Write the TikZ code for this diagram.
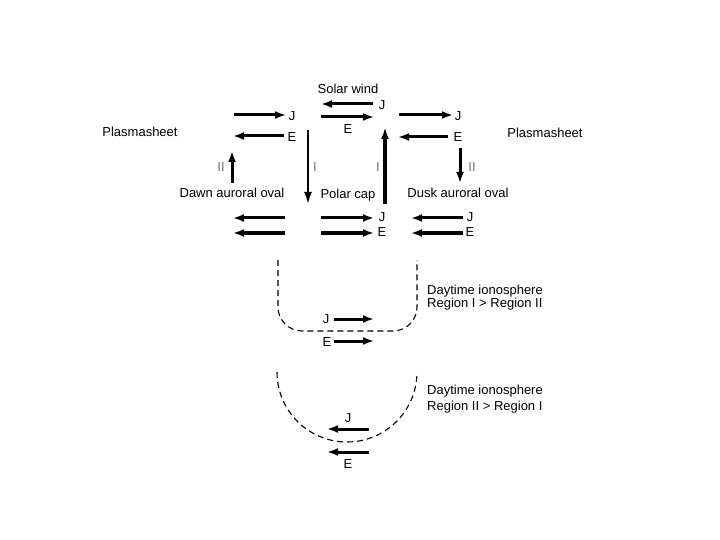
\documentclass[tikz,border=0pt]{standalone}
\usepackage{fontspec}
\setmainfont{Liberation Sans}
\usetikzlibrary{arrows.meta}
\begin{document}
\begin{tikzpicture}[x=1pt,y=-1pt,
  lbl/.style={inner sep=0pt,font=\fontsize{13}{15}\selectfont},
  rom/.style={inner sep=0pt,font=\fontsize{13}{15}\selectfont,text=black!55},
  arr/.style={line width=3pt,-{Latex[length=11pt,width=8pt]}},
  varr/.style={line width=2pt,-{Latex[length=12pt,width=8pt]}},
  uarr/.style={line width=3.2pt,-{Latex[length=12pt,width=8pt]}},
  dsh/.style={line width=1.1pt,dash pattern=on 6pt off 4pt}]
\useasboundingbox (0,0) rectangle (720,540);
% labels
\node[lbl] (sw) at (348,89) {Solar wind};
\node[lbl] (psl) at (140,132) {Plasmasheet};
\node[lbl] (psr) at (545,133) {Plasmasheet};
\node[lbl] (dawn) at (232,193) {Dawn auroral oval};
\node[lbl] (pc) at (348,195) {Polar cap};
\node[lbl] (dusk) at (458,193) {Dusk auroral oval};
% top row letters
\node[lbl] (jsw) at (382,105) {J};
\node[lbl] (esw) at (348,129) {E};
\node[lbl] (jl) at (292,116) {J};
\node[lbl] (el) at (292,137) {E};
\node[lbl] (jr) at (458,116) {J};
\node[lbl] (er) at (458,137) {E};
% bottom row letters
\node[lbl] (jm) at (382,217) {J};
\node[lbl] (em) at (382,232) {E};
\node[lbl] (jbr) at (470,217) {J};
\node[lbl] (ebr) at (470,232) {E};
% I and II
\node[rom] (i1) at (315,167) {I};
\node[rom] (i2) at (378,167) {I};
\node[rom] (ii1) at (221,167) {II};
\node[rom] (ii2) at (472,167) {II};
% arrow end points
\coordinate (a1s) at (373,104); \coordinate (a1e) at (321,104);
\coordinate (a2s) at (321,117); \coordinate (a2e) at (374,117);
\coordinate (a3s) at (234,115); \coordinate (a3e) at (286,115);
\coordinate (a4s) at (284,136); \coordinate (a4e) at (233,136);
\coordinate (a5s) at (399,115); \coordinate (a5e) at (453,115);
\coordinate (a6s) at (448,137); \coordinate (a6e) at (398,137);
\coordinate (b1s) at (285,218); \coordinate (b1e) at (233,218);
\coordinate (b2s) at (285,233); \coordinate (b2e) at (233,233);
\coordinate (b3s) at (321,218); \coordinate (b3e) at (374,218);
\coordinate (b4s) at (321,233); \coordinate (b4e) at (374,233);
\coordinate (b5s) at (463,218); \coordinate (b5e) at (411,218);
\coordinate (b6s) at (463,233); \coordinate (b6e) at (411,233);
\coordinate (v1s) at (308,130); \coordinate (v1e) at (308,204);
\coordinate (v2s) at (385,204); \coordinate (v2e) at (385,127);
\coordinate (v3s) at (232,183); \coordinate (v3e) at (232,151);
\coordinate (v4s) at (460,148); \coordinate (v4e) at (460,183);
\draw[arr] (a1s) -- (a1e);
\draw[arr] (a2s) -- (a2e);
\draw[arr] (a3s) -- (a3e);
\draw[arr] (a4s) -- (a4e);
\draw[arr] (a5s) -- (a5e);
\draw[arr] (a6s) -- (a6e);
\draw[arr] (b1s) -- (b1e);
\draw[arr] (b2s) -- (b2e);
\draw[arr] (b3s) -- (b3e);
\draw[arr] (b4s) -- (b4e);
\draw[arr] (b5s) -- (b5e);
\draw[arr] (b6s) -- (b6e);
\draw[varr] (v1s) -- (v1e);
\draw[uarr] (v2s) -- (v2e);
\draw[arr] (v3s) -- (v3e);
\draw[arr] (v4s) -- (v4e);
% daytime ionosphere, region I > region II
\coordinate (u1) at (278,260); \coordinate (u2) at (278,331);
\coordinate (u3) at (417,331); \coordinate (u4) at (417,260);
\draw[dsh,rounded corners=24pt] (u1) -- (u2) -- (u3) -- (u4);
\node[lbl,anchor=west] (d1a) at (427,291) {Daytime ionosphere};
\node[lbl,anchor=west] (d1b) at (427,304) {Region I > Region II};
\node[lbl] (j3) at (326,319) {J};
\node[lbl] (e3) at (327,342) {E};
\coordinate (c1s) at (334,319); \coordinate (c1e) at (374,319);
\coordinate (c2s) at (334,341); \coordinate (c2e) at (374,341);
\draw[arr] (c1s) -- (c1e);
\draw[arr] (c2s) -- (c2e);
% daytime ionosphere, region II > region I
\coordinate (s1) at (277,372);
\draw[dsh] (s1) arc[start angle=180,end angle=360,radius=70pt];
\node[lbl,anchor=west] (d2a) at (427,391) {Daytime ionosphere};
\node[lbl,anchor=west] (d2b) at (427,407) {Region II > Region I};
\node[lbl] (j4) at (348,418) {J};
\node[lbl] (e4) at (348,464) {E};
\coordinate (c3s) at (369,429); \coordinate (c3e) at (327,429);
\coordinate (c4s) at (369,452); \coordinate (c4e) at (327,452);
\draw[arr] (c3s) -- (c3e);
\draw[arr] (c4s) -- (c4e);
\end{tikzpicture}
\end{document}
